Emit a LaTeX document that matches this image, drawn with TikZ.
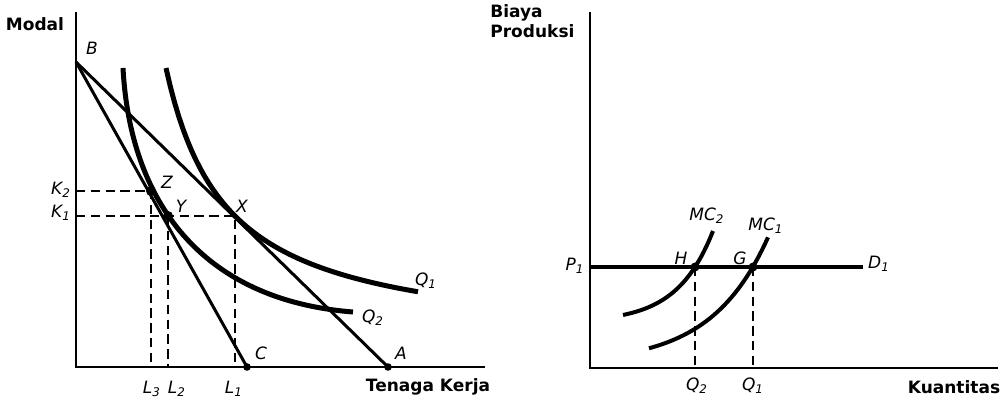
\documentclass[tikz,border=0pt]{standalone}
\usepackage{fontspec}
\setmainfont{DejaVu Sans}
\begin{document}
\begin{tikzpicture}[x=0.5pt, y=-0.5pt,
  axis/.style={line width=1.25pt},
  costline/.style={line width=1.5pt},
  curve/.style={line width=2.5pt},
  mccurve/.style={line width=2pt},
  guide/.style={line width=1pt, dash pattern=on 4.7pt off 2.7pt},
  lbl/.style={font=\fontsize{8.5}{10}\selectfont\itshape, inner sep=0pt},
  ttl/.style={font=\fontsize{8.5}{10}\selectfont\bfseries, inner sep=0pt, align=left},
  dot/.style={circle, fill, inner sep=0pt, minimum size=#1},
  dot/.default=4.5pt]
\useasboundingbox (0,0) rectangle (1001,400);

% left panel: input
\coordinate (kTop) at (76,12);
\coordinate (o1) at (76,367);
\coordinate (lEnd) at (485,367);
\coordinate (B) at (76,62);
\coordinate (A) at (388,367);
\coordinate (C) at (247,367);
\coordinate (Z) at (151,191);
\coordinate (Y) at (168,216);
\coordinate (X) at (235,216);
\coordinate (k2) at (76,191);
\coordinate (k1) at (76,216);
\coordinate (l3) at (151,367);
\coordinate (l2) at (168,367);
\coordinate (l1) at (235,367);
\coordinate (q2Top) at (123,68);
\coordinate (q2End) at (353,312);

\draw[axis] (kTop) -- (o1) -- (lEnd);
\draw[guide] (k2) -- (Z) -- (l3);
\draw[guide] (k1) -- (X) -- (l1);
\draw[guide] (Y) -- (l2);
\draw[costline] (B) -- (A);
\draw[costline] (B) -- (C);
\draw[curve] plot[domain=166:418, samples=60] (\x, {345.3-167.18/((\x-105.7)/100)});
\draw[curve] (q2Top) .. controls (130,200) and (200,300) .. (q2End);
\node[dot=5pt] (dotZ) at (Z) {};
\node[dot=5pt] (dotY) at (Y) {};
\node[dot=3.8pt] (dotC) at (C) {};
\node[dot=3.8pt] (dotA) at (A) {};

\node[ttl] (modal) at (35,24) {Modal};
\node[ttl] (tenaga) at (428,387) {Tenaga Kerja};
\node[lbl] (labB) at (92,48) {B};
\node[lbl] (labA) at (401,353) {A};
\node[lbl] (labC) at (261,353) {C};
\node[lbl] (labZ) at (167,182) {Z};
\node[lbl] (labY) at (181,206) {Y};
\node[lbl] (labX) at (242,206) {X};
\node[lbl] (labK2) at (61,190) {K\textsubscript{2}};
\node[lbl] (labK1) at (61,213) {K\textsubscript{1}};
\node[lbl] (labL3) at (152,389) {L\textsubscript{3}};
\node[lbl] (labL2) at (177,389) {L\textsubscript{2}};
\node[lbl] (labL1) at (234,389) {L\textsubscript{1}};
\node[lbl] (labQ1) at (426,281) {Q\textsubscript{1}};
\node[lbl] (labQ2) at (373,318) {Q\textsubscript{2}};

% right panel: cost
\coordinate (cTop) at (590,12);
\coordinate (o2) at (590,368);
\coordinate (qEnd) at (998,368);
\coordinate (P) at (590,267);
\coordinate (dEnd) at (863,267);
\coordinate (H) at (695,267);
\coordinate (G) at (753,267);
\coordinate (q2) at (695,368);
\coordinate (q1) at (753,368);

\draw[axis] (cTop) -- (o2) -- (qEnd);
\draw[guide] (H) -- (q2);
\draw[guide] (G) -- (q1);
\draw[mccurve] (P) -- (dEnd);
\draw[mccurve] plot[domain=623:713, samples=40] (\x, {322.5-7.51*exp((\x-623)/36)});
\draw[mccurve] plot[domain=649:768, samples=40] (\x, {364-15.7*exp((\x-649)/57)});
\node[dot] (dotH) at (H) {};
\node[dot] (dotG) at (G) {};

\node[ttl, anchor=north west] (biaya) at (490,4) {Biaya\\Produksi};
\node[ttl] (kuantitas) at (954,387) {Kuantitas};
\node[lbl] (labP1) at (575,266) {P\textsubscript{1}};
\node[lbl] (labH) at (681,258) {H};
\node[lbl] (labG) at (740,258) {G};
\node[lbl] (labD1) at (879,264) {D\textsubscript{1}};
\node[lbl] (labMC2) at (707,216) {MC\textsubscript{2}};
\node[lbl] (labMC1) at (766,226) {MC\textsubscript{1}};
\node[lbl] (labQq2) at (697,386) {Q\textsubscript{2}};
\node[lbl] (labQq1) at (753,386) {Q\textsubscript{1}};
\end{tikzpicture}
\end{document}
